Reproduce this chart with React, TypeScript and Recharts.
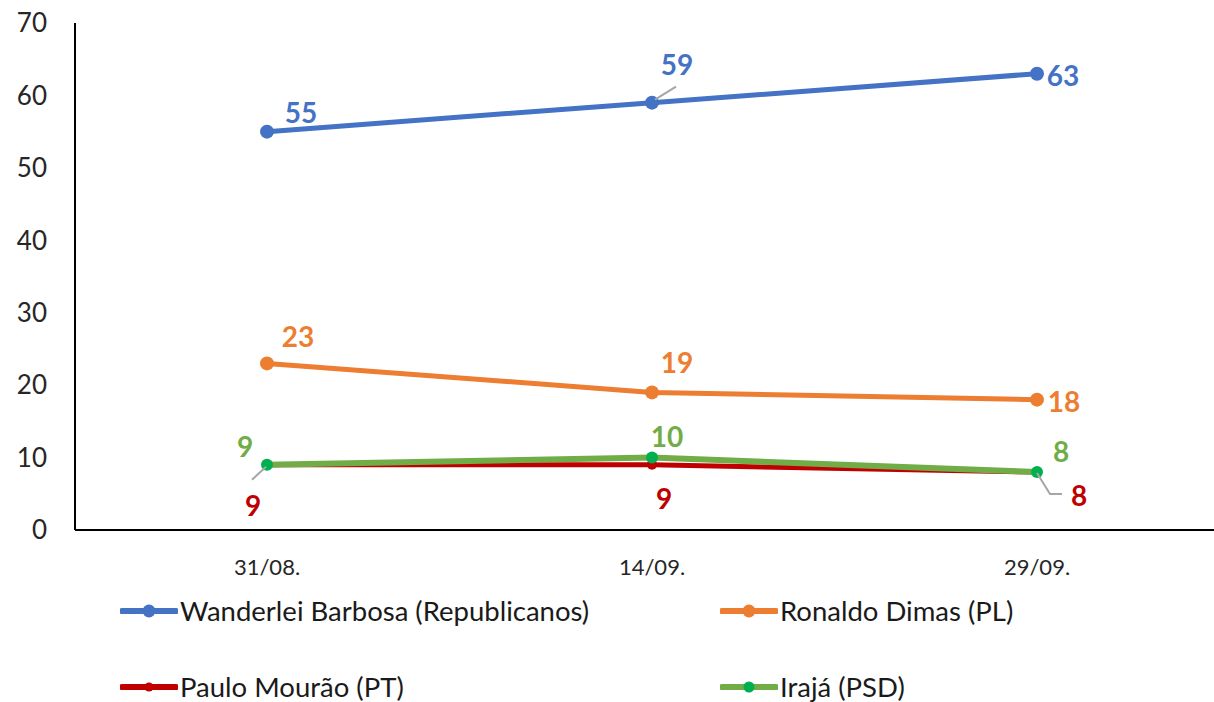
import React from "react";
import { LineChart, Line, XAxis, YAxis, LabelList } from "recharts";

const dates = ["31/08.", "14/09.", "29/09."];
const wanderlei = [55, 59, 63];
const ronaldo = [23, 19, 18];
const paulo = [9, 9, 8];
const iraja = [9, 10, 8];
const yTicks = [0, 10, 20, 30, 40, 50, 60, 70];

const FONT = "Lato, 'Noto Sans', sans-serif";

const data = dates.map((d, i) => ({
  date: d,
  wanderlei: wanderlei[i],
  ronaldo: ronaldo[i],
  paulo: paulo[i],
  iraja: iraja[i],
}));

// label offsets from the point, plus optional leader line (relative points)
type LabelPos = { dx: number; dy: number; leader?: string };

const series = [
  {
    key: "wanderlei",
    name: "Wanderlei Barbosa (Republicanos)",
    color: "#4472C4",
    dot: "#4472C4",
    width: 5,
    r: 7,
    labelColor: "#4472C4",
    labels: [
      { dx: 34, dy: -20 },
      { dx: 25, dy: -39, leader: "M3,-3 L24,-16" },
      { dx: 26, dy: 1 },
    ] as LabelPos[],
  },
  {
    key: "ronaldo",
    name: "Ronaldo Dimas (PL)",
    color: "#ED7D31",
    dot: "#ED7D31",
    width: 5,
    r: 7,
    labelColor: "#ED7D31",
    labels: [
      { dx: 31, dy: -27 },
      { dx: 25, dy: -30 },
      { dx: 27, dy: 1 },
    ] as LabelPos[],
  },
  {
    key: "paulo",
    name: "Paulo Mourão (PT)",
    color: "#C00000",
    dot: "#C00000",
    width: 5,
    r: 5,
    labelColor: "#C00000",
    labels: [
      { dx: -14, dy: 40, leader: "M-1,2 L-15,15" },
      { dx: 12, dy: 33 },
      { dx: 42, dy: 23, leader: "M0,1 L13,22 L25,22" },
    ] as LabelPos[],
  },
  {
    key: "iraja",
    name: "Irajá (PSD)",
    color: "#70AD47",
    dot: "#00B050",
    width: 6,
    r: 6,
    labelColor: "#70AD47",
    labels: [
      { dx: -22, dy: -19 },
      { dx: 15, dy: -22 },
      { dx: 24, dy: -21 },
    ] as LabelPos[],
  },
];

const makeLabel = (s: (typeof series)[number]) => (props: any) => {
  const { x, y, value, index } = props;
  const p = s.labels[index] || { dx: 0, dy: -20 };
  return (
    <g>
      {p.leader && (
        <path
          d={p.leader}
          transform={`translate(${x},${y})`}
          stroke="#A6A6A6"
          strokeWidth={2}
          fill="none"
        />
      )}
      <text
        x={x + p.dx}
        y={y + p.dy}
        textAnchor="middle"
        dominantBaseline="central"
        fill={s.labelColor}
        fontSize={28}
        fontWeight={700}
        fontFamily={FONT}
      >
        {value}
      </text>
    </g>
  );
};

const XTick = (props: any) => {
  const { x, y, payload } = props;
  return (
    <text
      x={x}
      y={y + 28}
      textAnchor="middle"
      dominantBaseline="central"
      fontSize={22}
      fontFamily={FONT}
      fill="#262626"
    >
      {payload.value}
    </text>
  );
};

const legendPos = [
  { left: 120, top: 611 },
  { left: 720, top: 611 },
  { left: 120, top: 687 },
  { left: 720, top: 687 },
];

export default function App() {
  return (
    <div
      style={{
        position: "absolute",
        left: 0,
        top: 0,
        width: 1214,
        height: 702,
        background: "#fff",
        fontFamily: FONT,
      }}
    >
      <LineChart
        width={1214}
        height={702}
        data={data}
        margin={{ top: 23, right: 0, bottom: 112, left: 0 }}
      >
        <XAxis
          dataKey="date"
          padding={{ left: 192, right: 177 }}
          axisLine={{ stroke: "#000", strokeWidth: 2 }}
          tickLine={false}
          tick={<XTick />}
          height={60}
        />
        <YAxis
          domain={[0, 70]}
          ticks={yTicks}
          width={75}
          axisLine={{ stroke: "#000", strokeWidth: 2 }}
          tickLine={false}
          tickSize={6}
          tickMargin={22}
          tick={{ fontSize: 26, fill: "#262626", fontFamily: FONT }}
        />
        {series.map((s) => (
          <Line
            key={s.key}
            dataKey={s.key}
            name={s.name}
            stroke={s.color}
            strokeWidth={s.width}
            dot={{ r: s.r, fill: s.dot, stroke: s.dot, strokeWidth: 0 }}
            activeDot={false}
            isAnimationActive={false}
          >
            <LabelList dataKey={s.key} content={makeLabel(s)} />
          </Line>
        ))}
      </LineChart>
      {series.map((s, i) => (
        <div
          key={s.key}
          style={{
            position: "absolute",
            left: legendPos[i].left,
            top: legendPos[i].top,
            transform: "translateY(-50%)",
            display: "flex",
            alignItems: "center",
          }}
        >
          <svg width={58} height={16}>
            <line
              x1={2}
              y1={8}
              x2={56}
              y2={8}
              stroke={s.color}
              strokeWidth={6}
              strokeLinecap="round"
            />
            <circle cx={29} cy={8} r={s.r - 0.5} fill={s.dot} />
          </svg>
          <span
            style={{
              fontSize: 27.5,
              lineHeight: "28px",
              color: "#1a1a1a",
              marginLeft: 2,
            }}
          >
            {s.name}
          </span>
        </div>
      ))}
    </div>
  );
}
